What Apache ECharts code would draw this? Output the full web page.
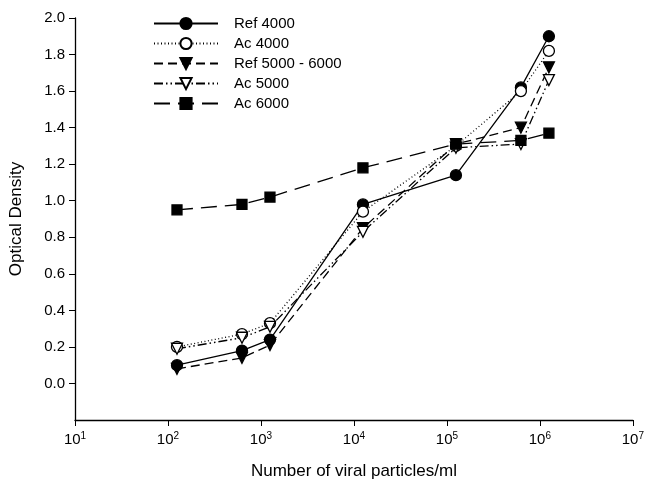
<!DOCTYPE html>
<html>
<head>
<meta charset="utf-8">
<script src="https://cdn.jsdelivr.net/npm/echarts@6/dist/echarts.min.js"></script>
<style>html,body{margin:0;padding:0;background:#fff}#c{width:647px;height:485px}</style>
</head>
<body>
<div id="c"></div>
<script>
const particles = [125, 625, 1250, 12500, 125000, 625000, 1250000];
const ref4000 = [0.10, 0.18, 0.24, 0.98, 1.14, 1.62, 1.90];
const ac4000 = [0.20, 0.27, 0.33, 0.94, 1.30, 1.60, 1.82];
const ref5000_6000 = [0.08, 0.14, 0.21, 0.85, 1.31, 1.40, 1.73];
const ac5000 = [0.19, 0.25, 0.31, 0.83, 1.29, 1.31, 1.66];
const ac6000 = [0.95, 0.98, 1.02, 1.18, 1.31, 1.33, 1.37];
const yTicks = [0, 0.2, 0.4, 0.6, 0.8, 1.0, 1.2, 1.4, 1.6, 1.8, 2.0];

const pair = arr => particles.map((x, i) => [x, arr[i]]);
const font = 'Liberation Sans, Arial, sans-serif';

function mk(name, data, sym, filled, lineType, rotate) {
  return {
    name: name, type: 'line', data: pair(data),
    symbol: sym, symbolSize: sym === 'rect' ? 10 : 11, symbolRotate: rotate || 0,
    lineStyle: { color: '#000', width: 1.3, type: lineType },
    itemStyle: { color: filled ? '#000' : '#fff', borderColor: '#000', borderWidth: 1.3 },
    z: 3
  };
}

const chart = echarts.init(document.getElementById('c'), null, { renderer: 'canvas' });
chart.setOption({
  animation: false,
  backgroundColor: '#fff',
  textStyle: { fontFamily: font, color: '#000' },
  grid: { left: 75, right: 11, top: 18, bottom: 63 },
  legend: {
    orient: 'vertical', left: 148, top: 11,
    itemWidth: 64, itemHeight: 14, itemGap: 5,
    textStyle: { fontFamily: font, fontSize: 15, lineHeight: 14, color: '#000', padding: [0, 0, 0, 11] },
    data: ['Ref 4000', 'Ac 4000', 'Ref 5000 - 6000', 'Ac 5000', 'Ac 6000']
  },
  xAxis: {
    type: 'log', logBase: 10, min: 10, max: 1e7,
    name: 'Number of viral particles/ml', nameLocation: 'middle', nameGap: 43,
    nameTextStyle: { fontFamily: font, fontSize: 17, color: '#000' },
    axisLine: { onZero: false, lineStyle: { color: '#000', width: 1.3 } },
    axisTick: { show: true, inside: false, length: 6, lineStyle: { color: '#000' } },
    splitLine: { show: false },
    minorTick: { show: false },
    axisLabel: {
      color: '#000', fontFamily: font, fontSize: 15, margin: 11,
      formatter: v => '10{s|' + Math.round(Math.log10(v)) + '}',
      rich: { s: { fontSize: 10, verticalAlign: 'top', padding: [0, 0, 7, 0], fontFamily: font, color: '#000' } }
    }
  },
  yAxis: {
    type: 'value', min: -0.2, max: 2.0,
    name: 'Optical Density', nameLocation: 'middle', nameGap: 50, nameRotate: 90,
    nameTextStyle: { fontFamily: font, fontSize: 17, color: '#000' },
    axisLine: { show: true, onZero: false, lineStyle: { color: '#000', width: 1.3 } },
    axisTick: { show: true, inside: false, length: 6, lineStyle: { color: '#000' }, customValues: yTicks },
    splitLine: { show: false },
    axisLabel: {
      color: '#000', fontFamily: font, fontSize: 15, margin: 10,
      customValues: yTicks, formatter: v => v.toFixed(1)
    }
  },
  series: [
    mk('Ref 4000', ref4000, 'circle', true, 'solid'),
    mk('Ac 4000', ac4000, 'circle', false, [1, 2.5]),
    mk('Ref 5000 - 6000', ref5000_6000, 'triangle', true, [9, 5], 180),
    mk('Ac 5000', ac5000, 'triangle', false, [9, 3, 1.5, 3, 1.5, 3], 180),
    mk('Ac 6000', ac6000, 'rect', true, [16, 8])
  ]
});
</script>
</body>
</html>
